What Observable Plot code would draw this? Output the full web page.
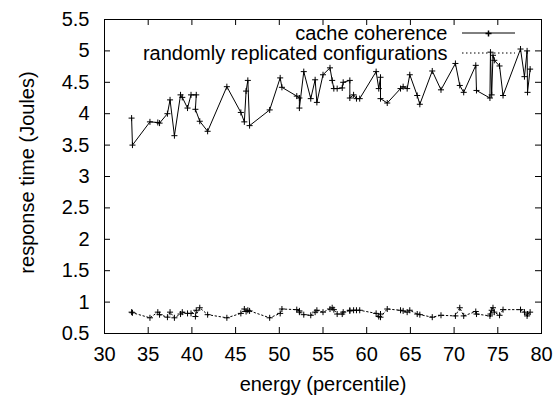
<!DOCTYPE html>
<html><head><meta charset="utf-8">
<script src="https://cdn.jsdelivr.net/npm/d3@7"></script>
<script src="https://cdn.jsdelivr.net/npm/@observablehq/plot@0.6"></script>
<style>body{margin:0;background:#fff}</style>
</head><body><div id="chart"></div>
<script>
const energy = [33.1, 33.2, 35.2, 36.1, 36.3, 37.2, 37.5, 38.0, 38.7, 38.9,
  39.5, 39.9, 40.5, 40.4, 40.9, 41.8, 44.0, 45.6, 46.0, 46.2,
  46.4, 46.6, 48.9, 50.1, 50.3, 52.0, 52.3, 52.3, 52.8, 53.6,
  54.1, 54.3, 55.0, 55.8, 56.05, 56.24, 56.62, 57.2, 57.31, 58.07,
  58.07, 58.5, 58.83, 59.2, 61.08, 61.38, 61.58, 61.58, 62.35, 63.87,
  64.17, 64.63, 64.93, 65.78, 66.08, 67.5, 68.5, 70.15, 70.65, 71.1,
  72.48, 72.56, 74.1, 74.16, 74.3, 74.45, 74.6, 75.2, 75.6, 77.6,
  78.05, 78.35, 78.4, 78.7];
const cacheCoherence = [3.93, 3.50, 3.87, 3.86, 3.85, 4.00, 4.22, 3.65, 4.30, 4.26,
  4.09, 4.30, 4.30, 4.07, 3.88, 3.72, 4.43, 4.02, 3.87, 4.36,
  4.53, 3.81, 4.06, 4.57, 4.42, 4.28, 4.25, 4.09, 4.67, 4.24,
  4.54, 4.18, 4.62, 4.73, 4.53, 4.40, 4.40, 4.41, 4.50, 4.53,
  4.25, 4.30, 4.24, 4.24, 4.67, 4.40, 4.58, 4.24, 4.17, 4.40,
  4.43, 4.40, 4.62, 4.29, 4.15, 4.68, 4.38, 4.80, 4.45, 4.34,
  4.77, 4.37, 4.25, 4.98, 4.30, 4.93, 4.85, 4.76, 4.29, 5.03,
  4.59, 5.00, 4.34, 4.71];
const randomlyReplicated = [0.84, 0.83, 0.75, 0.84, 0.80, 0.76, 0.84, 0.75, 0.81, 0.84,
  0.82, 0.82, 0.87, 0.77, 0.91, 0.80, 0.75, 0.82, 0.89, 0.85,
  0.87, 0.86, 0.75, 0.82, 0.89, 0.88, 0.86, 0.84, 0.80, 0.79,
  0.84, 0.87, 0.84, 0.89, 0.91, 0.88, 0.81, 0.81, 0.84, 0.87,
  0.86, 0.87, 0.87, 0.87, 0.82, 0.77, 0.81, 0.76, 0.89, 0.87,
  0.86, 0.84, 0.87, 0.81, 0.80, 0.76, 0.79, 0.78, 0.91, 0.78,
  0.85, 0.81, 0.78, 0.81, 0.87, 0.91, 0.84, 0.79, 0.88, 0.88,
  0.84, 0.78, 0.81, 0.84];
const seriesNames = ["cache coherence", "randomly replicated configurations"];
const xTicks = [30, 35, 40, 45, 50, 55, 60, 65, 70, 75, 80];
const yTicks = [0.5, 1, 1.5, 2, 2.5, 3, 3.5, 4, 4.5, 5, 5.5];
const xLabel = "energy (percentile)";
const yLabel = "response time (Joules)";

const W = 556, H = 398;
const mL = 104, mR = 15, mT = 19, mB = 65;
const fW = W - mL - mR, fH = H - mT - mB;
const tickLen = 6;
const markR = 2.1;

const upper = energy.map((x, i) => ({x, y: cacheCoherence[i]}));
const lower = energy.map((x, i) => ({x, y: randomlyReplicated[i]}));
const innerX = xTicks.slice(1, -1), innerY = yTicks.slice(1, -1);

function legendLines(index, scales, values, dims) {
  const g = d3.create("svg:g");
  const right = dims.width - dims.marginRight;
  const x1 = right - 79, x2 = right - 26;
  const y1 = dims.marginTop + 14, y2 = dims.marginTop + 34;
  g.append("line").attr("x1", x1).attr("x2", x2).attr("y1", y1).attr("y2", y1)
    .attr("stroke", "black").attr("stroke-width", 1);
  g.append("line").attr("x1", x1).attr("x2", x2).attr("y1", y2).attr("y2", y2)
    .attr("stroke", "black").attr("stroke-width", 1).attr("stroke-dasharray", "1.5,2.5");
  return g.node();
}

const chart = Plot.plot({
  width: W, height: H,
  marginLeft: mL, marginRight: mR, marginTop: mT, marginBottom: mB,
  style: {fontFamily: "'Liberation Sans', Arial, sans-serif", fontSize: "20px", background: "white", color: "black"},
  x: {domain: [30, 80]},
  y: {domain: [0.5, 5.5]},
  marks: [
    Plot.gridX(innerX, {stroke: "black", strokeOpacity: 1, insetTop: fH - tickLen}),
    Plot.gridX(innerX, {stroke: "black", strokeOpacity: 1, insetBottom: fH - tickLen}),
    Plot.gridY(innerY, {stroke: "black", strokeOpacity: 1, insetRight: fW - tickLen}),
    Plot.gridY(innerY, {stroke: "black", strokeOpacity: 1, insetLeft: fW - tickLen}),
    Plot.axisX(xTicks, {tickSize: 0, tickPadding: 13, tickFormat: d => String(d), label: null, fontSize: 20}),
    Plot.axisY(yTicks, {tickSize: 0, tickPadding: 15, tickFormat: d => String(d), label: null, fontSize: 20}),
    Plot.line(lower, {x: "x", y: "y", stroke: "black", strokeWidth: 1, strokeDasharray: "1.5,2.5"}),
    Plot.dot(lower, {x: "x", y: "y", symbol: "plus", r: markR, stroke: "black", strokeWidth: 1}),
    Plot.line(upper, {x: "x", y: "y", stroke: "black", strokeWidth: 1}),
    Plot.dot(upper, {x: "x", y: "y", symbol: "plus", r: markR, stroke: "black", strokeWidth: 1}),
    Plot.text([seriesNames[0]], {frameAnchor: "top-right", dx: -94, dy: 14, textAnchor: "end", lineAnchor: "middle", fontSize: 20, fill: "black"}),
    Plot.text([seriesNames[1]], {frameAnchor: "top-right", dx: -94, dy: 34, textAnchor: "end", lineAnchor: "middle", fontSize: 20, fill: "black"}),
    legendLines,
    Plot.dot([seriesNames[0]], {frameAnchor: "top-right", dx: -53, dy: 14, symbol: "plus", r: markR, stroke: "black"}),
    Plot.text([xLabel], {frameAnchor: "bottom", dy: 51, textAnchor: "middle", lineAnchor: "middle", fontSize: 20, fill: "black"}),
    Plot.text([yLabel], {frameAnchor: "left", dx: -77, dy: -4, rotate: -90, textAnchor: "middle", lineAnchor: "middle", fontSize: 20, fill: "black"}),
    Plot.frame({stroke: "black", strokeWidth: 1})
  ]
});
document.getElementById("chart").appendChild(chart);
</script></body></html>
